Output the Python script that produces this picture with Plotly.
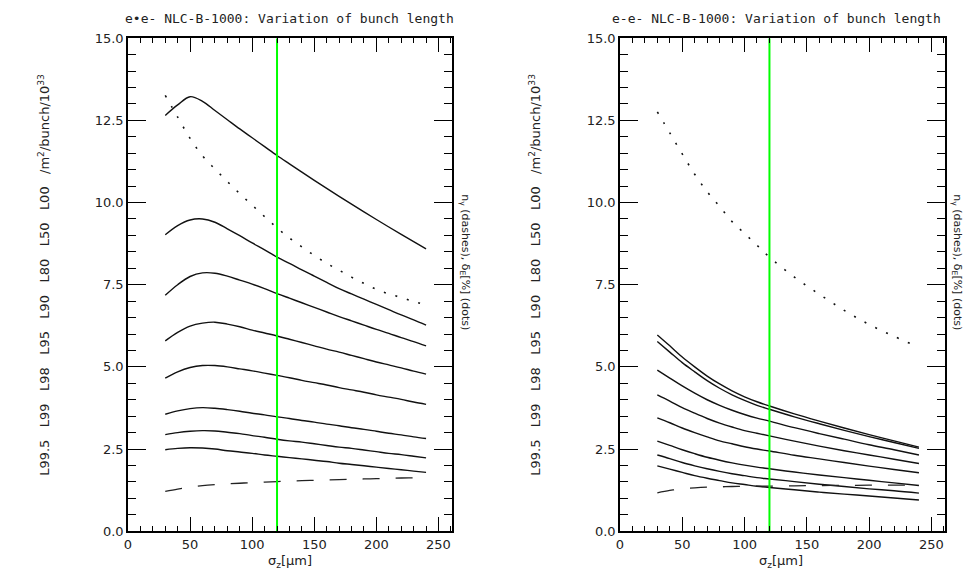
import plotly.graph_objects as go

# ---------------- data ----------------
sigma_z_left = [30, 40, 50, 60, 70, 80, 90, 100, 110, 120, 130, 140, 150, 160, 170, 180, 190, 200, 210, 220, 230, 240]

L00_ee = [12.65, 12.97, 13.22, 13.08, 12.80, 12.52, 12.24, 11.97, 11.70, 11.43, 11.175, 10.923, 10.675, 10.43, 10.188, 9.95, 9.715, 9.483, 9.255, 9.03, 8.808, 8.59]
L50_ee = [9.02, 9.30, 9.47, 9.50, 9.40, 9.20, 8.99, 8.77, 8.56, 8.34, 8.15, 7.95, 7.76, 7.57, 7.38, 7.22, 7.06, 6.90, 6.74, 6.58, 6.43, 6.27]
L80_ee = [7.18, 7.50, 7.75, 7.86, 7.85, 7.76, 7.64, 7.52, 7.38, 7.23, 7.09, 6.95, 6.81, 6.67, 6.53, 6.40, 6.27, 6.14, 6.02, 5.89, 5.77, 5.64]
L90_ee = [5.79, 6.05, 6.24, 6.33, 6.36, 6.30, 6.22, 6.12, 6.03, 5.94, 5.84, 5.74, 5.64, 5.54, 5.45, 5.35, 5.25, 5.15, 5.06, 4.97, 4.87, 4.78]
L95_ee = [4.66, 4.85, 4.98, 5.04, 5.04, 5.00, 4.94, 4.88, 4.81, 4.74, 4.67, 4.59, 4.52, 4.45, 4.37, 4.30, 4.23, 4.15, 4.08, 4.01, 3.93, 3.86]
L98_ee = [3.56, 3.66, 3.73, 3.76, 3.74, 3.70, 3.65, 3.59, 3.54, 3.48, 3.43, 3.37, 3.32, 3.26, 3.21, 3.15, 3.10, 3.04, 2.98, 2.93, 2.87, 2.82]
L99_ee = [2.94, 3.00, 3.04, 3.06, 3.05, 3.01, 2.97, 2.91, 2.86, 2.80, 2.75, 2.71, 2.66, 2.61, 2.56, 2.52, 2.47, 2.42, 2.37, 2.33, 2.28, 2.23]
L995_ee = [2.48, 2.52, 2.54, 2.53, 2.50, 2.45, 2.41, 2.37, 2.32, 2.28, 2.24, 2.20, 2.16, 2.12, 2.07, 2.03, 1.99, 1.95, 1.91, 1.87, 1.83, 1.79]
dE_ee = [13.26, 12.60, 11.95, 11.42, 11.02, 10.64, 10.27, 9.92, 9.57, 9.23, 8.92, 8.65, 8.39, 8.15, 7.94, 7.73, 7.54, 7.36, 7.22, 7.11, 6.99, 6.88]
ng_ee = [1.21, 1.28, 1.34, 1.39, 1.42, 1.44, 1.46, 1.48, 1.495, 1.51, 1.525, 1.54, 1.55, 1.56, 1.57, 1.58, 1.59, 1.60, 1.61, 1.62, 1.625, 1.63]

sigma_z_right = [30, 40, 50, 60, 70, 80, 90, 100, 110, 120, 140, 160, 180, 200, 220, 240]

L00_em = [5.97, 5.64, 5.30, 5.00, 4.72, 4.48, 4.27, 4.09, 3.94, 3.81, 3.57, 3.35, 3.14, 2.94, 2.75, 2.56]
L50_em = [5.77, 5.45, 5.13, 4.85, 4.58, 4.35, 4.15, 3.98, 3.83, 3.71, 3.48, 3.27, 3.07, 2.88, 2.70, 2.52]
L80_em = [4.90, 4.66, 4.42, 4.20, 4.00, 3.83, 3.68, 3.55, 3.44, 3.35, 3.15, 2.97, 2.80, 2.63, 2.48, 2.32]
L90_em = [4.15, 3.96, 3.76, 3.59, 3.43, 3.29, 3.17, 3.06, 2.98, 2.90, 2.74, 2.59, 2.45, 2.32, 2.19, 2.06]
L95_em = [3.45, 3.30, 3.14, 3.00, 2.87, 2.75, 2.66, 2.57, 2.50, 2.44, 2.31, 2.20, 2.09, 1.98, 1.88, 1.78]
L98_em = [2.74, 2.61, 2.48, 2.36, 2.25, 2.16, 2.08, 2.01, 1.95, 1.90, 1.80, 1.71, 1.63, 1.55, 1.47, 1.39]
L99_em = [2.32, 2.21, 2.09, 1.99, 1.90, 1.82, 1.75, 1.69, 1.63, 1.59, 1.51, 1.43, 1.36, 1.29, 1.23, 1.16]
L995_em = [1.99, 1.89, 1.79, 1.69, 1.61, 1.54, 1.47, 1.42, 1.37, 1.33, 1.26, 1.19, 1.13, 1.07, 1.01, 0.95]
dE_em = [12.76, 12.12, 11.48, 10.86, 10.33, 9.88, 9.42, 9.06, 8.70, 8.34, 7.73, 7.21, 6.72, 6.29, 5.93, 5.60]
ng_em = [1.17, 1.24, 1.29, 1.32, 1.34, 1.35, 1.36, 1.365, 1.37, 1.37, 1.38, 1.39, 1.395, 1.40, 1.40, 1.40]

sigma_z_nominal = 120
y_span = [0, 15]

title_left = "e•e- NLC-B-1000: Variation of bunch length"
title_right = "e-e- NLC-B-1000: Variation of bunch length"
ylab_left = "L99.5\u00a0\u00a0 L99\u00a0\u00a0 L98\u00a0\u00a0 L95\u00a0\u00a0 L90\u00a0\u00a0 L80\u00a0\u00a0 L50\u00a0\u00a0 L00\u00a0\u00a0 /m<sup>2</sup>/bunch/10<sup>33</sup>"
ylab_right = "n<sub>γ</sub> (dashes), δ<sub>E</sub>[%] (dots)"
xlab = "σ<sub>z</sub>[μm]"

# ---------------- figure ----------------
fig = go.Figure()

solid = dict(color="#111111", width=1.4)
dotted = dict(color="#111111", width=1.6, dash="2px,10px")
dashed = dict(color="#222222", width=1.3, dash="17px,16px")

for xs, xa, ya, curves, dE, ng in [
    (sigma_z_left, "x", "y", [L00_ee, L50_ee, L80_ee, L90_ee, L95_ee, L98_ee, L99_ee, L995_ee], dE_ee, ng_ee),
    (sigma_z_right, "x2", "y2", [L00_em, L50_em, L80_em, L90_em, L95_em, L98_em, L99_em, L995_em], dE_em, ng_em),
]:
    for c in curves:
        fig.add_trace(go.Scatter(x=xs, y=c, mode="lines", line=solid, line_shape="spline",
                                 xaxis=xa, yaxis=ya))
    fig.add_trace(go.Scatter(x=xs, y=dE, mode="lines", line=dotted, line_shape="spline",
                             xaxis=xa, yaxis=ya))
    fig.add_trace(go.Scatter(x=xs, y=ng, mode="lines", line=dashed, line_shape="spline",
                             xaxis=xa, yaxis=ya))
    fig.add_trace(go.Scatter(x=[sigma_z_nominal, sigma_z_nominal], y=y_span, mode="lines",
                             line=dict(color="#00ff00", width=2), xaxis=xa, yaxis=ya))

tfont = dict(family="DejaVu Sans", size=13, color="#222")
x_main = dict(range=[0, 261], showline=True, linecolor="black", linewidth=1.5, mirror="allticks",
              ticks="inside", ticklen=14, tickcolor="black",
              dtick=50, showgrid=False, zeroline=False, tickfont=tfont,
              minor=dict(ticks="inside", ticklen=5, dtick=10, tickcolor="black"))
y_main = dict(range=[0, 15], showline=True, linecolor="black", linewidth=1.5, mirror="allticks",
              ticks="inside", ticklen=18, tickcolor="black",
              dtick=2.5, tickformat=".1f", showgrid=False, zeroline=False, tickfont=tfont,
              minor=dict(ticks="inside", ticklen=8, dtick=0.5, tickcolor="black"))
# tick-only companion axes (same scales, no labels) so the inner tick marks are always drawn
x_tick = dict(range=[0, 261], showline=False, mirror="allticks", ticks="inside", ticklen=14,
              tickcolor="black", dtick=50, showgrid=False, zeroline=False, showticklabels=False,
              minor=dict(ticks="inside", ticklen=5, dtick=10, tickcolor="black"))
y_tick = dict(range=[0, 15], showline=False, mirror="allticks", ticks="inside", ticklen=18,
              tickcolor="black", dtick=2.5, showgrid=False, zeroline=False, showticklabels=False,
              minor=dict(ticks="inside", ticklen=8, dtick=0.5, tickcolor="black"))

W, H = 971, 586
dom_l = [124.5 / W, 450 / W]
dom_r = [618.5 / W, 945 / W]
dom_y = [48 / H, 554 / H]
fig.update_layout(
    width=W, height=H, margin=dict(l=0, r=0, t=0, b=0),
    plot_bgcolor="white", paper_bgcolor="white", showlegend=False, hovermode=False,
    xaxis=dict(domain=dom_l, anchor="y", **x_main),
    yaxis=dict(domain=dom_y, anchor="x", **y_main),
    xaxis2=dict(domain=dom_r, anchor="y2", **x_main),
    yaxis2=dict(domain=dom_y, anchor="x2", **y_main),
    xaxis3=dict(overlaying="x", anchor="y", **x_tick),
    yaxis3=dict(overlaying="y", anchor="x", **y_tick),
    xaxis4=dict(overlaying="x2", anchor="y2", **x_tick),
    yaxis4=dict(overlaying="y2", anchor="x2", **y_tick),
)

ann = []
def add(text, px, py, angle=0, size=13, family="DejaVu Sans"):
    ann.append(dict(text=text, x=px / W, y=1 - py / H, xref="paper", yref="paper",
                    xanchor="center", yanchor="middle", showarrow=False, textangle=angle,
                    font=dict(family=family, size=size, color="#222")))

add(title_left, 287, 12, size=13, family="DejaVu Sans Mono")
add(title_right, 776, 12, size=13, family="DejaVu Sans Mono")
add(ylab_left, 40, 275, angle=-90)
add(ylab_left, 533, 275, angle=-90)
add(ylab_right, 463, 262, angle=90, size=11)
add(ylab_right, 957, 262, angle=90, size=11)
add(xlab, 287, 569)
add(xlab, 780, 569)
fig.update_layout(annotations=ann)

fig.write_html("out.html", config={"displayModeBar": False},
               post_script="document.body.style.margin='0px';document.body.style.overflow='hidden';")
